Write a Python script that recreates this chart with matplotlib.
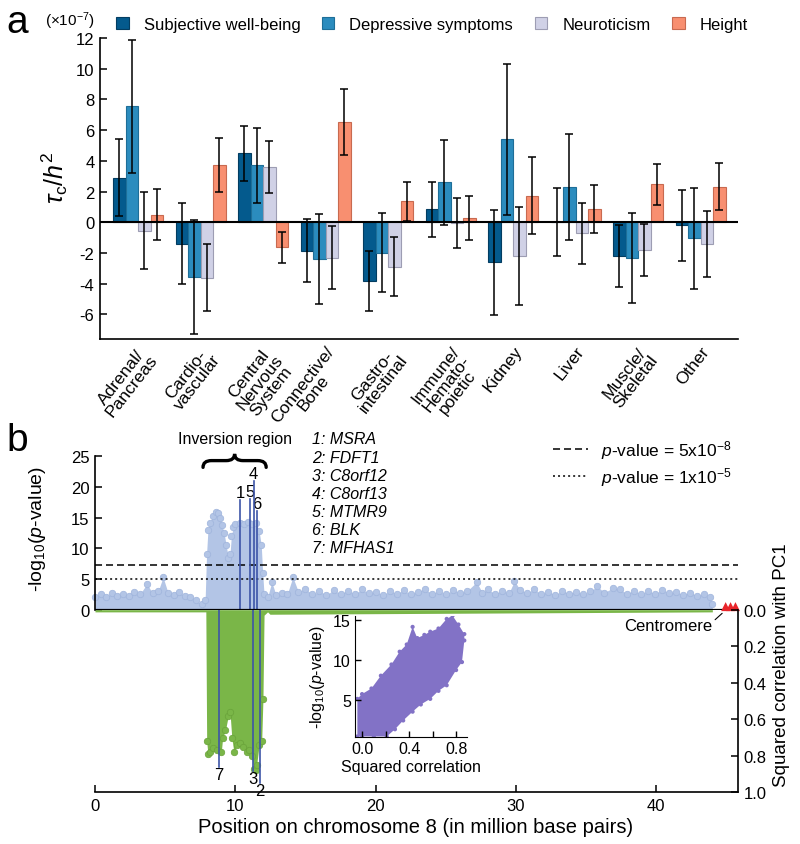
import numpy as np
import matplotlib
matplotlib.use('Agg')
import matplotlib.pyplot as plt
from matplotlib.path import Path
from matplotlib.patches import PathPatch

plt.rcParams['font.family'] = ['Liberation Sans', 'DejaVu Sans']
plt.rcParams['mathtext.fontset'] = 'custom'
plt.rcParams['mathtext.rm'] = 'Liberation Sans'
plt.rcParams['mathtext.it'] = 'Liberation Sans:italic'
plt.rcParams['mathtext.bf'] = 'Liberation Sans:bold'
plt.rcParams['axes.unicode_minus'] = False

# ---- panel a: tau_c / h2 per tissue group (x1e-7)
tissues = ['Adrenal/\nPancreas', 'Cardio-\nvascular', 'Central\nNervous\nSystem',
           'Connective/\nBone', 'Gastro-\nintestinal', 'Immune/\nHemato-\npoietic',
           'Kidney', 'Liver', 'Muscle/\nSkeletal', 'Other']
traits = ['Subjective well-being', 'Depressive symptoms', 'Neuroticism', 'Height']
swb = [2.9, -1.4, 4.5, -1.85, -3.8, 0.85, -2.6, 0.03, -2.2, -0.2]
swb_err = [2.5, 2.64, 1.8, 2.05, 1.95, 1.8, 3.43, 2.2, 2.0, 2.32]
dep = [7.55, -3.55, 3.7, -2.38, -1.97, 2.61, 5.4, 2.33, -2.34, -1.04]
dep_err = [4.35, 3.7, 2.45, 2.95, 2.6, 2.77, 4.92, 3.45, 2.92, 3.29]
neu = [-0.55, -3.6, 3.59, -2.3, -2.9, -0.06, -2.2, -0.71, -1.8, -1.39]
neu_err = [2.5, 2.2, 1.7, 2.05, 1.92, 1.62, 3.21, 1.99, 1.7, 2.15]
hgt = [0.5, 3.72, -1.63, 6.52, 1.38, 0.27, 1.74, 0.86, 2.48, 2.33]
hgt_err = [1.65, 1.77, 1.0, 2.15, 1.27, 1.45, 2.52, 1.58, 1.32, 1.56]

# ---- panel b: chromosome 8 scan (upper envelope of -log10 p, Mb)
man_pos = [0.0, 0.4, 0.8, 1.2, 1.6, 2.0, 2.4, 2.8, 3.2, 3.7, 4.1, 4.5, 4.85, 5.2, 5.6,
           6.0, 6.4, 6.8, 7.2, 7.6, 7.85,
           7.95, 8.05, 8.2, 8.4, 8.6, 8.75, 8.9, 9.05, 9.2, 9.35, 9.5, 9.62, 9.72, 9.85,
           10.0, 10.3, 10.6, 10.9, 11.2, 11.5, 11.7, 11.85, 11.95, 12.05,
           12.3, 12.6, 12.9, 13.3, 13.7, 14.1, 14.5, 15.0, 15.5, 16.0, 16.5, 17.0, 17.5,
           18.0, 18.5, 19.0, 19.5, 20.0, 20.5, 21.0, 21.5, 22.0, 22.5, 23.0, 23.5, 24.0,
           24.5, 25.0, 25.5, 26.0, 26.5, 27.2, 27.6, 28.0, 28.5, 29.0, 29.5, 29.9, 30.3,
           30.8, 31.3, 31.8, 32.3, 32.8, 33.3, 33.8, 34.3, 34.8, 35.3, 35.8, 36.3, 36.9,
           37.4, 37.9, 38.4, 38.9, 39.4, 39.9, 40.4, 40.9, 41.4, 41.9, 42.4, 42.9, 43.4,
           43.8, 44.0]
man_top = [2.0, 2.5, 2.1, 2.7, 2.2, 2.6, 2.3, 2.9, 2.5, 4.2, 2.7, 3.0, 5.3, 2.8, 2.4,
           2.9, 2.2, 2.0, 1.5, 0.9, 1.6,
           9.0, 13.0, 14.2, 15.2, 16.0, 15.8, 15.0, 13.8, 12.5, 10.5, 8.5, 9.0, 12.0, 13.5,
           14.0, 14.2, 14.0, 14.3, 13.9, 14.1, 12.8, 10.5, 6.0, 2.5,
           2.0, 4.5, 2.4, 2.8, 2.5, 5.3, 2.9, 3.4, 2.5, 3.0, 2.4, 3.2, 2.6,
           3.1, 2.5, 3.3, 2.7, 2.9, 2.4, 3.0, 2.6, 3.2, 2.5, 2.9, 3.4, 2.6,
           3.0, 2.5, 3.2, 2.7, 3.0, 4.5, 2.8, 3.3, 2.6, 3.0, 2.7, 4.7, 3.2,
           2.7, 3.4, 2.5, 2.9, 2.4, 3.1, 2.6, 2.9, 2.5, 3.0, 3.8, 2.8, 3.5,
           3.4, 2.6, 3.1, 2.5, 3.0, 2.6, 3.2, 2.7, 2.9, 2.4, 2.8, 2.3, 2.5,
           2.0, 1.0]

# squared correlation with PC1 (lower envelope)
r2_pos = [0.0, 7.9, 7.96, 8.05, 8.2, 8.4, 8.7, 9.0, 9.1, 9.3, 9.5, 9.62, 9.75, 9.9,
          10.1, 10.35, 10.57, 10.8, 11.0, 11.17, 11.3, 11.45, 11.52, 11.7, 11.88,
          11.97, 12.05, 12.3, 12.47, 44.0]
r2_val = [0.012, 0.012, 0.72, 0.79, 0.78, 0.76, 0.77, 0.78, 0.70, 0.66, 0.58, 0.56,
          0.70, 0.78, 0.74, 0.73, 0.75, 0.78, 0.77, 0.80, 0.87, 0.88, 0.85, 0.74,
          0.72, 0.49, 0.03, 0.012, 0.025, 0.012]

gene_num = ['1', '2', '3', '4', '5', '6', '7']
gene_names = ['MSRA', 'FDFT1', 'C8orf12', 'C8orf13', 'MTMR9', 'BLK', 'MFHAS1']
gene_pos = [10.36, 11.76, 11.26, 11.31, 11.05, 11.55, 8.82]
gene_logp = [17.8, 0, 0, 21.0, 18.0, 16.1, 0]
gene_r2 = [0, 0.95, 0.885, 0, 0, 0, 0.86]

thresholds = [5e-8, 1e-5]
threshold_labels = [r'$p$-value = 5x10$^{-8}$', r'$p$-value = 1x10$^{-5}$']
cen_pos = [44.95, 45.3, 45.65]

# inset: outline of the r2 vs -log10 p cloud
cloud_r2 = [-0.04, 0.0, 0.08, 0.16, 0.25, 0.32, 0.38, 0.43, 0.47, 0.53, 0.58, 0.65,
            0.72, 0.77, 0.82, 0.87, 0.87, 0.85, 0.80, 0.72, 0.65, 0.58, 0.50, 0.43,
            0.35, 0.28, 0.21, 0.10, 0.0, -0.04]
cloud_lp = [5.2, 5.8, 6.5, 8.1, 9.5, 11.1, 12.0, 14.2, 12.8, 13.2, 13.6, 14.0, 15.2,
            15.6, 14.5, 13.3, 12.5, 9.8, 8.8, 6.9, 6.2, 5.2, 4.5, 3.6, 2.5, 1.4, 0.5,
            0.5, 0.5, 0.5]

fills = ['#045a8d', '#2b8cbe', '#d0d1e6', '#f88f70']
edges = ['#033d61', '#1e6e98', '#9d9db3', '#c86a50']
LB = '#b3c5e6'
GR = '#7ab648'
PU = '#8272c6'
GENE = '#3d55a8'

fig = plt.figure(figsize=(8, 8.45), dpi=100)

# ================= panel a
ax = fig.add_axes([0.125, 0.5976, 0.7975, 0.3562])
x = np.arange(len(tissues))
offs = [-0.3, -0.1, 0.1, 0.3]
series = [swb, dep, neu, hgt]
errs = [swb_err, dep_err, neu_err, hgt_err]
handles = []
for k in range(4):
    b = ax.bar(x + offs[k], series[k], 0.2, yerr=errs[k], color=fills[k],
               edgecolor=edges[k], linewidth=0.8, label=traits[k], zorder=2,
               error_kw=dict(ecolor='black', elinewidth=1.1, capsize=3.2, capthick=1.1, zorder=4))
    handles.append(b)
ax.axhline(0, color='black', lw=1.5, zorder=3)
ax.set_xlim(-0.61, 9.6)
ax.set_ylim(-7.6, 12)
ax.set_yticks(range(-6, 13, 2))
for s in ['top', 'right']:
    ax.spines[s].set_visible(False)
for s in ['left', 'bottom']:
    ax.spines[s].set_linewidth(1.2)
ax.tick_params(axis='y', direction='in', length=5, width=1.1, labelsize=12, pad=4)
ax.set_xticks(x)
ax.set_xticklabels(tissues, rotation=52, ha='right', va='top', rotation_mode='anchor',
                   multialignment='center', fontsize=12.5, linespacing=0.9)
ax.tick_params(axis='x', length=0, pad=3)
ax.set_ylabel(r'$\tau_{\mathrm{c}}/h^{2}$', fontsize=18)
ax.yaxis.set_label_coords(-0.047, 0.54)
fig.text(0.056, 0.975, r'(×10$^{-7}$)', fontsize=11, va='center')
ax.legend(handles, traits, ncol=4, loc='center left', bbox_to_anchor=(0.145, 0.9704),
          bbox_transform=fig.transFigure, frameon=False, fontsize=12, handlelength=0.75,
          handleheight=0.75, handletextpad=0.9, columnspacing=1.3, borderpad=0, borderaxespad=0)
fig.text(0.0075, 0.9606, 'a', fontsize=28, va='baseline')

# ================= panel b
ax_t = fig.add_axes([0.11875, 0.2773, 0.8041, 0.1815])
ax_b = fig.add_axes([0.11875, 0.0612, 0.8041, 0.2161])
xmax = 45.85

ax_t.fill_between(man_pos, 0, man_top, color=LB, lw=0, zorder=1)
ax_t.scatter(man_pos, man_top, s=22, c=LB, edgecolors='#9fb4dc', linewidths=0.5,
             zorder=2, clip_on=False)
ls = [(0, (4.6, 2.6)), (0, (1.3, 2.0))]
lines = []
for th, st in zip(thresholds, ls):
    lines.append(ax_t.axhline(-np.log10(th), color='black', lw=1.1, linestyle=st, zorder=3))
for p, lp in zip(gene_pos, gene_logp):
    if lp > 0:
        ax_t.plot([p, p], [0, lp], color=GENE, lw=1.2, zorder=4)
for n, p, lp in zip(gene_num, gene_pos, gene_logp):
    if lp > 0:
        ax_t.text(p, lp, n, ha='center', va='bottom', fontsize=12)
ax_t.axhline(0, color='black', lw=1.6, zorder=5)
ax_t.scatter(cen_pos, [0.5] * len(cen_pos), marker='^', s=42, color='#e8252a',
             edgecolors='none', clip_on=False, zorder=6)
ax_t.set_xlim(0, xmax)
ax_t.set_ylim(0, 25)
ax_t.set_yticks(range(0, 26, 5))
ax_t.set_xticks([])
for s in ['top', 'right', 'bottom']:
    ax_t.spines[s].set_visible(False)
ax_t.spines['left'].set_linewidth(1.2)
ax_t.tick_params(axis='y', direction='in', length=5, width=1.1, labelsize=12, pad=4)
ax_t.set_ylabel(r'-log$_{10}$($p$-value)', fontsize=14)
ax_t.yaxis.set_label_coords(-0.073, 0.53)
ax_t.patch.set_alpha(0)
ax_t.legend(lines, threshold_labels, loc='upper left', bbox_to_anchor=(0.691, 1 - 439 / 845),
            bbox_transform=fig.transFigure, frameon=False, fontsize=12.5, handlelength=2.0,
            handletextpad=0.8, labelspacing=0.25, borderpad=0, borderaxespad=0)


def brace(a, x0, x1, yb, yt, w):
    xm = (x0 + x1) / 2
    ym = (yb + yt) / 2
    verts = [(x0, yb), (x0, ym), (x0 + w, ym), (xm - w, ym), (xm, ym), (xm, yt),
             (xm, ym), (xm + w, ym), (x1 - w, ym), (x1, ym), (x1, yb)]
    codes = [Path.MOVETO, Path.CURVE3, Path.CURVE3, Path.LINETO, Path.CURVE3, Path.CURVE3,
             Path.CURVE3, Path.CURVE3, Path.LINETO, Path.CURVE3, Path.CURVE3]
    a.add_patch(PathPatch(Path(verts, codes), fc='none', ec='black', lw=2.4,
                          clip_on=False, capstyle='round'))


brace(ax_t, 7.7, 12.2, 23.2, 25.4, 0.6)
fig.text(234.5 / 800, 1 - 440 / 845, 'Inversion region', fontsize=11.5, ha='center', va='center')
for i, (n, g) in enumerate(zip(gene_num, gene_names)):
    fig.text(0.39, 1 - (440 + 18.05 * i) / 845, n + ': ' + g, fontsize=11.5,
             style='italic', va='center')
fig.text(0.0075, 1 - 451 / 845, 'b', fontsize=28, va='baseline')

# lower half
mask = np.array(r2_val) > 0.05
ax_b.fill_between(r2_pos, 0, r2_val, color=GR, lw=0, zorder=1)
ax_b.scatter(np.array(r2_pos)[mask], np.array(r2_val)[mask], s=22, c=GR,
             edgecolors='#69a23a', linewidths=0.5, zorder=2)
for p, r in zip(gene_pos, gene_r2):
    if r > 0:
        ax_b.plot([p, p], [0, r], color=GENE, lw=1.2, zorder=4)
for n, p, r in zip(gene_num, gene_pos, gene_r2):
    if r > 0:
        ax_b.text(p, r, n, ha='center', va='top', fontsize=12)
ax_b.annotate('Centromere', xy=(44.7, 0.02), xytext=(44.0, 0.085), ha='right', va='center',
              fontsize=12, arrowprops=dict(arrowstyle='-', lw=0.8, color='black',
                                           shrinkA=0, shrinkB=0, relpos=(1, 0.7)))
ax_b.set_xlim(0, xmax)
ax_b.set_ylim(1.0, 0.0)
ax_b.set_xticks(range(0, 41, 10))
ax_b.set_yticks(np.arange(0, 1.01, 0.2))
ax_b.set_yticklabels(['0.0', '0.2', '0.4', '0.6', '0.8', '1.0'])
for s in ['top', 'left']:
    ax_b.spines[s].set_visible(False)
for s in ['right', 'bottom']:
    ax_b.spines[s].set_linewidth(1.2)
ax_b.yaxis.tick_right()
ax_b.tick_params(axis='both', direction='in', length=5, width=1.1, labelsize=12, pad=4)
ax_b.yaxis.set_label_position('right')
ax_b.set_ylabel('Squared correlation with PC1', fontsize=13.5, rotation=90)
ax_b.yaxis.set_label_coords(1.054, 0.70)
ax_b.set_xlabel('Position on chromosome 8 (in million base pairs)', fontsize=14.5)
ax_b.xaxis.set_label_coords(0.499, -0.137)
ax_b.patch.set_alpha(0)

# inset
ax_in = fig.add_axes([0.44375, 0.1263, 0.1396, 0.1439])
ax_in.fill(cloud_r2, cloud_lp, color=PU, lw=0)
ax_in.scatter(cloud_r2, cloud_lp, s=9, c=PU, edgecolors='none')
ax_in.set_xlim(-0.06, 0.89)
ax_in.set_ylim(0.4, 15.6)
ax_in.set_xticks([0.0, 0.4, 0.8])
ax_in.set_xticklabels(['0.0', '0.4', '0.8'])
ax_in.set_xticks([0.2, 0.6], minor=True)
ax_in.set_yticks([5, 10, 15])
for s in ['top', 'right']:
    ax_in.spines[s].set_visible(False)
ax_in.tick_params(axis='both', which='both', direction='in', length=4, width=1.0,
                  labelsize=11.5, pad=3)
ax_in.set_ylabel(r'-log$_{10}$($p$-value)', fontsize=11.5)
ax_in.yaxis.set_label_coords(-0.25, 0.507)
ax_in.set_xlabel('Squared correlation', fontsize=11.5)
ax_in.xaxis.set_label_coords(0.497, -0.178)

fig.savefig('out.png', dpi=100)
